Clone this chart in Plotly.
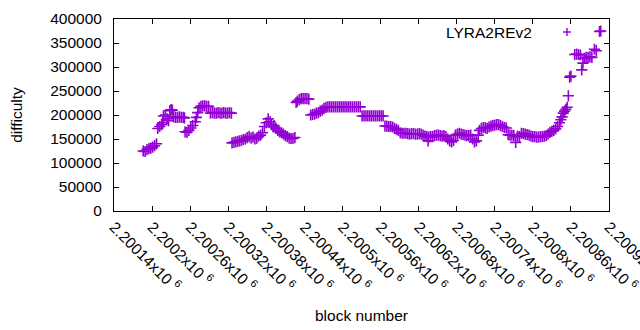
import plotly.graph_objects as go

blocks = [
    2200186, 2200189, 2200192, 2200195, 2200198, 2200201, 2200204, 2200207,
    2200209, 2200212, 2200215, 2200217, 2200218, 2200221, 2200224, 2200226,
    2200228, 2200230, 2200232,
    2200234, 2200237, 2200240, 2200243, 2200246, 2200249, 2200251,
    2200252, 2200255, 2200258, 2200261, 2200264,
    2200268, 2200270, 2200272,
    2200274, 2200277, 2200280, 2200283, 2200286, 2200289,
    2200292, 2200295, 2200298, 2200301, 2200304, 2200307, 2200310, 2200313, 2200316, 2200319, 2200322, 2200325,
    2200326, 2200329, 2200332, 2200335, 2200338, 2200341, 2200344, 2200347, 2200350, 2200353,
    2200356, 2200359, 2200362, 2200365, 2200368, 2200371, 2200374,
    2200377, 2200380, 2200383, 2200386, 2200388, 2200391,
    2200392, 2200395, 2200398, 2200401, 2200404, 2200407, 2200410, 2200413, 2200416, 2200419, 2200422, 2200425,
    2200427, 2200429, 2200432, 2200435, 2200438, 2200441, 2200444, 2200447,
    2200450, 2200453, 2200456, 2200459, 2200462, 2200465, 2200468,
    2200471, 2200474, 2200477, 2200480, 2200483, 2200486, 2200489, 2200492, 2200495, 2200498,
    2200501, 2200504, 2200507, 2200510, 2200513, 2200516, 2200519, 2200522, 2200525, 2200528,
    2200531, 2200534, 2200537, 2200540, 2200543, 2200546, 2200549, 2200552, 2200555, 2200558, 2200561, 2200564,
    2200567, 2200570, 2200573, 2200576, 2200579,
    2200582, 2200585, 2200588,
    2200591, 2200594, 2200597, 2200600, 2200603, 2200606,
    2200609, 2200612, 2200615, 2200618, 2200621, 2200624, 2200627, 2200630, 2200633, 2200635, 2200636,
    2200639, 2200642, 2200645, 2200648, 2200651, 2200654, 2200657, 2200660, 2200663, 2200666,
    2200669, 2200672, 2200675, 2200678, 2200681, 2200684, 2200687, 2200690, 2200693, 2200696,
    2200699, 2200702, 2200705, 2200708, 2200711, 2200714,
    2200716, 2200719, 2200722, 2200725, 2200728, 2200731, 2200734, 2200737, 2200740, 2200743,
    2200746, 2200749, 2200752, 2200755, 2200758, 2200761, 2200764, 2200767, 2200770, 2200773,
    2200776, 2200779, 2200782, 2200785, 2200788, 2200791, 2200794, 2200797, 2200800, 2200803,
    2200806, 2200809, 2200812, 2200815, 2200818, 2200821, 2200824, 2200827, 2200830, 2200833,
    2200836, 2200839, 2200842, 2200844, 2200846, 2200848, 2200850, 2200852, 2200854, 2200856,
    2200858, 2200860, 2200866, 2200869, 2200872, 2200875, 2200877, 2200879, 2200881, 2200884,
    2200887, 2200890, 2200893, 2200897, 2200900, 2200905, 2200907,
]

difficulty = [
    125000, 124000, 128000, 130000, 131000, 133000, 136000, 140000,
    172000, 176000, 180000, 184000, 198000, 200000, 192000, 188000,
    209000, 211000, 210000,
    196000, 195000, 195000, 196000, 195000, 195000, 194000,
    165000, 164000, 168000, 173000, 178000,
    186000, 195000, 205000,
    215000, 218000, 219000, 219000, 218000, 218000,
    204000, 205000, 204000, 204000, 205000, 204000, 204000, 205000, 204000, 204000, 205000, 204000,
    142000, 143000, 144000, 145000, 146000, 147000, 149000, 150000, 153000, 155000,
    152000, 154000, 150000, 152000, 156000, 158000, 163000,
    176000, 184000, 192000, 186000, 180000, 175000,
    178000, 172000, 168000, 165000, 163000, 160000, 157000, 155000, 152000, 151000, 151000, 153000,
    226000, 229000, 232000, 234000, 234000, 234000, 234000, 233000,
    200000, 201000, 202000, 204000, 205000, 208000, 210000,
    214000, 216000, 217000, 217000, 217000, 217000, 217000, 217000, 217000, 217000,
    217000, 217000, 217000, 217000, 217000, 217000, 217000, 217000, 217000, 217000,
    198000, 198000, 198000, 198000, 198000, 198000, 198000, 198000, 198000, 198000, 198000, 198000,
    177000, 177000, 176000, 176000, 175000,
    172000, 170000, 168000,
    163000, 162000, 162000, 162000, 161000, 160000,
    161000, 161000, 160000, 160000, 161000, 160000, 158000, 156000, 155000, 146000, 154000,
    155000, 155000, 157000, 158000, 158000, 157000, 156000, 157000, 155000, 150000,
    146000, 144000, 147000, 158000, 160000, 162000, 160000, 159000, 158000, 157000,
    157000, 158000, 150000, 144000, 146000, 158000,
    168000, 172000, 174000, 173000, 172000, 175000, 177000, 178000, 179000, 180000,
    180000, 178000, 176000, 174000, 173000, 159000, 158000, 158000, 157000, 143000,
    156000, 155000, 162000, 161000, 160000, 159000, 158000, 156000, 155000, 155000,
    154000, 154000, 155000, 155000, 156000, 157000, 160000, 164000, 166000, 168000,
    171000, 176000, 184000, 190000, 196000, 204000, 208000, 212000, 216000, 240000,
    279000, 281000, 326000, 327000, 326000, 325000, 294000, 308000, 318000, 320000,
    320000, 321000, 320000, 337000, 334000, 374000, 375000,
]

x_tickvals = [2200140, 2200200, 2200260, 2200320, 2200380, 2200440, 2200500,
              2200560, 2200620, 2200680, 2200740, 2200800, 2200860, 2200920]
x_ticktext = ["2.20014", "2.2002", "2.20026", "2.20032", "2.20038", "2.20044", "2.2005",
              "2.20056", "2.20062", "2.20068", "2.20074", "2.2008", "2.20086", "2.20092"]
y_tickvals = [0, 50000, 100000, 150000, 200000, 250000, 300000, 350000, 400000]

series_name = "LYRA2REv2"
color = "#9400D3"
font_family = "Liberation Sans, Arial, sans-serif"
fs = 15.5

fig = go.Figure()
fig.add_trace(go.Scatter(
    x=blocks, y=difficulty, mode="markers", name=series_name,
    marker=dict(symbol="cross-thin", size=8, color=color,
                line=dict(color=color, width=1.6)),
    showlegend=False, cliponaxis=False,
))

fig.update_layout(
    width=640, height=330,
    margin=dict(l=114, r=31, t=19, b=119),
    paper_bgcolor="white", plot_bgcolor="white",
    font=dict(family=font_family, size=fs, color="black"),
    xaxis=dict(
        range=[2200140, 2200920], automargin=False,
        tickmode="array", tickvals=x_tickvals,
        ticktext=[t + "x10 <sup>6</sup>" for t in x_ticktext],
        tickangle=45, ticklabeloverflow="allow",
        ticks="inside", ticklen=5, tickcolor="black",
        showline=True, linecolor="black", linewidth=1, mirror="ticks",
        showgrid=False, zeroline=False,
        title=dict(text="block number", font=dict(size=fs), standoff=16),
    ),
    yaxis=dict(
        range=[0, 400000], automargin=False,
        tickmode="array", tickvals=y_tickvals,
        ticktext=[str(v) for v in y_tickvals],
        ticks="inside", ticklen=5, tickcolor="black",
        showline=True, linecolor="black", linewidth=1, mirror="ticks",
        showgrid=False, zeroline=False, ticklabelstandoff=8,
        title=dict(text="difficulty", font=dict(size=fs), standoff=23),
    ),
    annotations=[dict(
        text=series_name, xref="paper", yref="paper",
        x=(534 - 114) / 495, y=(211 - 32) / 192,
        xanchor="right", yanchor="middle", showarrow=False,
        font=dict(size=fs),
    )],
    shapes=[
        dict(type="line", xref="paper", yref="paper", xsizemode="pixel", ysizemode="pixel",
             xanchor=(567 - 114) / 495, yanchor=(211 - 32) / 192,
             x0=-4, x1=4, y0=0, y1=0, line=dict(color=color, width=1.4)),
        dict(type="line", xref="paper", yref="paper", xsizemode="pixel", ysizemode="pixel",
             xanchor=(567 - 114) / 495, yanchor=(211 - 32) / 192,
             x0=0, x1=0, y0=-4, y1=4, line=dict(color=color, width=1.4)),
    ],
)

fig.write_html("out.html", config={"displayModeBar": False},
               post_script="document.body.style.margin='0';")
